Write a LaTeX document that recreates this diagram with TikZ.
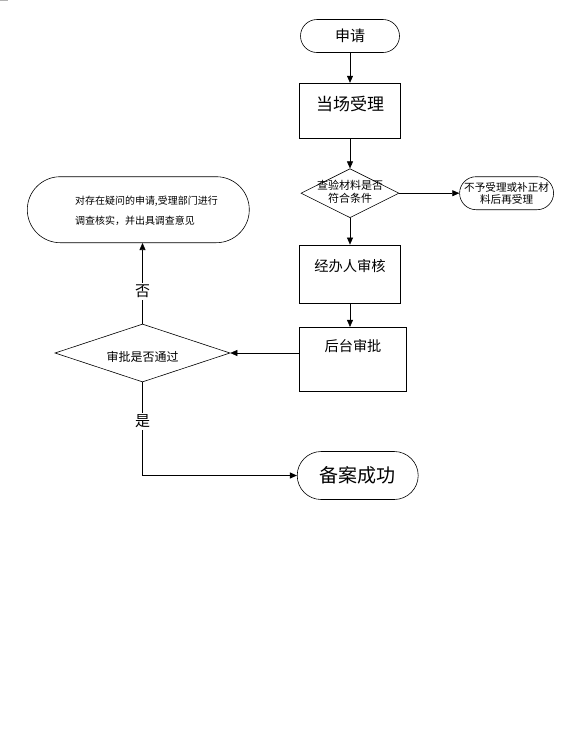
\documentclass[tikz,border=0pt]{standalone}
\usepackage{fontspec}
\newfontfamily\cjk{Noto Sans CJK SC}
\usetikzlibrary{arrows.meta}
\usetikzlibrary{shapes.geometric}
\usetikzlibrary{positioning}

\newcommand{\fs}[1]{\cjk\fontsize{#1}{#1}\selectfont}

\begin{document}
\begin{tikzpicture}[
  x=1pt, y=-1pt,
  term/.style    = {draw, rounded corners=16.5pt, minimum width=99pt, minimum height=33pt, inner sep=0pt},
  proc/.style    = {draw, minimum width=101pt, minimum height=55pt, inner sep=0pt},
  choice/.style  = {draw, diamond, inner sep=0pt},
  inlabel/.style = {anchor=center, inner sep=0pt, align=center},
  arr/.style     = {-{Triangle[length=7pt, width=6pt]}, line width=0.6pt},
  line width=0.6pt
]
  \useasboundingbox (0,0) rectangle (563,740);
  \fill[gray!60] (0,0) rectangle (8,1.2);

  % main column
  \node[term, font=\fs{15}] (apply) at (350,36) {申请};
  \node[proc, below=30pt of apply,
        label={[inlabel, yshift=-21pt, font=\fs{17}]north:当场受理}] (accept) {};
  \node[choice, below=30pt of accept, minimum width=98pt, minimum height=49pt,
        label={[inlabel, font=\fs{11}, yshift=1pt]center:{查验材料是否\\[2pt]符合条件}}] (check) {};
  \node[proc, below=26.6pt of check, minimum height=58.4pt,
        label={[inlabel, yshift=-21pt, font=\fs{14.3}]north:经办人审核}] (review) {};
  \node[proc, below=23.3pt of review, xshift=3pt, minimum width=107pt, minimum height=64.3pt,
        label={[inlabel, yshift=-19.3pt, font=\fs{14.2}]north:后台审批}] (approve) {};

  % side branch
  \node[term, right=60pt of check, minimum width=94pt, minimum height=33pt,
        label={[inlabel, font=\fs{10.6}]center:{不予受理或补正材\\[1pt]料后再受理}}] (reject) {};

  % decision on the left
  \node[choice, minimum width=175pt, minimum height=58pt,
        label={[inlabel, font=\fs{12}, yshift=-4pt]center:审批是否通过}] (decide) at (142.5,353) {};
  \node[draw, rounded corners=33pt, minimum width=222pt, minimum height=66pt,
        label={[anchor=west, inner sep=0pt, align=left, xshift=47.7pt, yshift=-1pt, font=\fs{10}]west:{对存在疑问的申请,受理部门进行\\[9pt]调查核实，并出具调查意见}}] (doubt) at (138.3,209.7) {};
  \node[term, rounded corners=24pt, minimum width=121pt, minimum height=48pt, font=\fs{19}] (done) at (357.7,475.5) {备案成功};

  \draw[arr] (apply) -- (apply.south |- accept.north);
  \draw[arr] (accept.south -| check) -- (check.north);
  \draw[arr] (check) -- (check.south |- review.north);
  \draw[arr] (review.south) -- (review.south |- approve.north);
  \draw[arr] (check) -- (reject);
  \draw[arr] (decide.east -| approve.west) -- (decide.east);
  \draw[arr] (decide.north) -- node[pos=0.4, fill=white, inner sep=2pt, font=\fs{15}] {否} (decide.north |- doubt.south);
  \draw[arr, line width=1pt] (decide.south) |- node[pos=0.21, fill=white, inner sep=2pt, font=\fs{15}] {是} (done.west);
\end{tikzpicture}
\end{document}
